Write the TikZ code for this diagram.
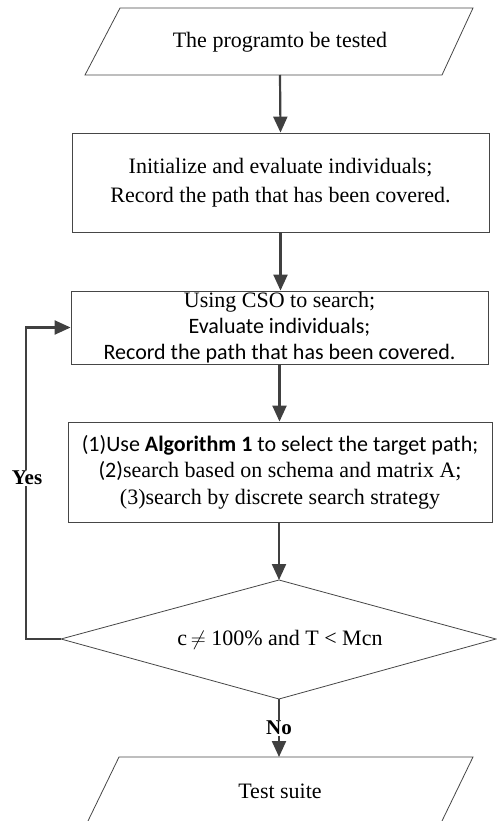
\documentclass[tikz,border=0pt]{standalone}
\usepackage{fontspec}
\setmainfont{Liberation Serif}
\newfontfamily\calfont{Carlito}
\usetikzlibrary{arrows.meta}
\definecolor{edgegray}{RGB}{70,70,70}
\definecolor{arrgray}{RGB}{64,64,64}
\tikzset{
  x=1pt, y=-1pt,
  shapeline/.style={draw=edgegray, line width=0.8pt},
  procbox/.style={shapeline, rectangle, inner sep=0pt, align=center},
  plain/.style={inner sep=0pt, align=center},
  flow/.style={draw=arrgray, line width=2.2pt, -{Triangle[width=14pt,length=16pt]}},
  lbl/.style={fill=white, inner sep=1pt, font=\fontsize{21}{24}\selectfont\bfseries},
}
\begin{document}
\begin{tikzpicture}
\useasboundingbox (0,0) rectangle (496,821);
% top parallelogram
\draw[shapeline] (120,8) -- (473,8) -- (442,75) -- (85,75) -- cycle;
\node[plain, font=\fontsize{22}{26}\selectfont] (in) at (280,42) {The programto be tested};
\coordinate (inb) at (280,75);
% box 2
\node[procbox, minimum width=417pt, minimum height=99pt, font=\fontsize{22}{29}\selectfont] (init) at (280.5,182.5)
  {Initialize and evaluate individuals;\\Record the path that has been covered.};
% box 3
\node[procbox, minimum width=417pt, minimum height=73pt, font=\fontsize{22}{26}\selectfont] (cso) at (279.5,327.5)
  {Using CSO to search;\\
   \calfont Evaluate individuals;\\
   \calfont Record the path that has been covered.};
% box 4
\node[procbox, minimum width=424pt, minimum height=100pt, font=\fontsize{22}{26.5}\selectfont] (alg) at (280,472)
  {\calfont (1)Use \textbf{Algorithm 1} to select the target path;\\
   {\calfont (2)}search based on schema and matrix A;\\
   (3)search by discrete search strategy};
% diamond
\coordinate (dtop) at (279,580);
\coordinate (dright) at (496,639);
\coordinate (dbot) at (279,699);
\coordinate (dleft) at (61,639);
\draw[shapeline] (dtop) -- (dright) -- (dbot) -- (dleft) -- cycle;
\node[plain, font=\fontsize{22}{26}\selectfont] (cond) at (280,640) {c\,$\neq$\ 100\% and T < Mcn};
% bottom parallelogram
\draw[shapeline] (119,757) -- (473,757) -- (441,823) -- (87,823) -- cycle;
\coordinate (outt) at (279,757);
\node[plain, font=\fontsize{22}{26}\selectfont] (out) at (280,791) {Test suite};
% connectors
\draw[flow] (inb) -- (init.north);
\draw[flow] (init.south) -- (cso.north -| init.south);
\draw[flow] (cso.south) -- (alg.north -| cso.south);
\draw[flow] (alg.south -| dtop) -- (dtop);
\coordinate (yc) at (26,639);
\draw[flow] (dleft) -- (yc) -- (yc |- cso.west) -- (cso.west);
\node[lbl] (yes) at (27,478) {Yes};
\draw[flow] (dbot) -- (outt);
\node[lbl] (no) at (279,728) {No};
\end{tikzpicture}
\end{document}
